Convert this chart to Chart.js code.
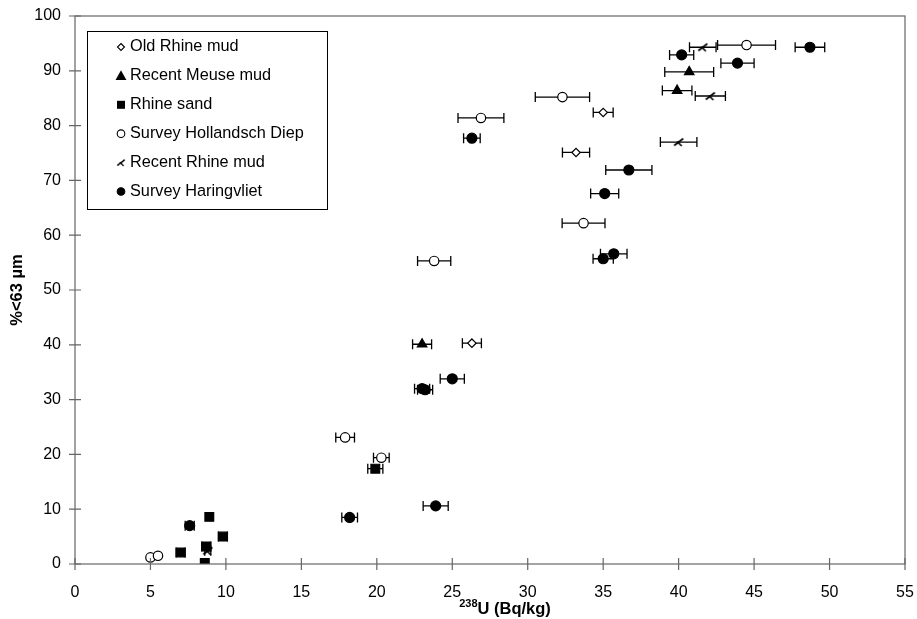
<!DOCTYPE html>
<html>
<head>
<meta charset="utf-8">
<script src="https://cdn.jsdelivr.net/npm/chart.js@4.4.0/dist/chart.umd.min.js"></script>
<style>
  html, body { margin: 0; padding: 0; background: #fff; }
</style>
</head>
<body>
<canvas id="chart" width="917" height="619"></canvas>
<script>
// values: x = 238U (Bq/kg), y = %<63 um, err = half width of the x error bar
const oldRhineX = [35.0, 33.2, 26.3];
const oldRhineY = [82.4, 75.1, 40.3];
const oldRhineErr = [0.66, 0.9, 0.63];

const meuseX = [40.7, 39.9, 23.0];
const meuseY = [89.8, 86.4, 40.1];
const meuseErr = [1.62, 0.98, 0.63];

const sandX = [19.9, 8.9, 8.6, 7.0, 9.8, 8.7];
const sandY = [17.4, 8.6, 0.2, 2.1, 5.0, 3.2];
const sandErr = [0.5, 0, 0, 0.3, 0.3, 0.3];

const hollandschX = [44.5, 32.3, 26.9, 33.7, 23.8, 17.9, 20.3, 5.0, 5.5];
const hollandschY = [94.7, 85.2, 81.4, 62.2, 55.3, 23.1, 19.4, 1.2, 1.5];
const hollandschErr = [1.92, 1.8, 1.52, 1.42, 1.1, 0.62, 0.52, 0, 0];

const recentRhineX = [41.6, 42.1, 40.0, 8.8];
const recentRhineY = [94.3, 85.4, 77.0, 2.4];
const recentRhineErr = [0.88, 1.0, 1.21, 0.2];

const haringvlietX = [48.7, 40.2, 43.9, 26.3, 36.7, 35.1, 35.7, 35.0, 25.0, 23.0, 23.2, 23.9, 18.2, 7.6];
const haringvlietY = [94.3, 92.9, 91.4, 77.7, 71.9, 67.6, 56.6, 55.7, 33.8, 32.0, 31.8, 10.6, 8.5, 7.0];
const haringvlietErr = [0.98, 0.8, 1.1, 0.55, 1.53, 0.93, 0.88, 0.67, 0.8, 0.5, 0.5, 0.83, 0.52, 0.3];

const seriesNames = ['Old Rhine mud', 'Recent Meuse mud', 'Rhine sand', 'Survey Hollandsch Diep', 'Recent Rhine mud', 'Survey Haringvliet'];

const xTicks = { min: 0, max: 55, step: 5 };
const yTicks = { min: 0, max: 100, step: 10 };

const FONT = "'Liberation Sans', Arial, sans-serif";

function points(xs, ys, errs) {
    return xs.map((x, i) => ({ x: x, y: ys[i], err: errs[i] }));
}

// the half-cross marker used for "Recent Rhine mud"
function makeHalfCross() {
    const c = document.createElement('canvas');
    c.width = 12;
    c.height = 12;
    const g = c.getContext('2d');
    g.strokeStyle = '#000';
    g.lineWidth = 1.7;
    g.beginPath();
    g.moveTo(1.5, 9.5);
    g.lineTo(10.5, 2.5);
    g.moveTo(4.5, 5.5);
    g.lineTo(9, 10);
    g.stroke();
    return c;
}
const halfCross = makeHalfCross();

const styles = [
    { pointStyle: 'rectRot', radius: 4.2, bg: '#fff' },
    { pointStyle: 'triangle', radius: 5.5, bg: '#000' },
    { pointStyle: 'rect', radius: 6.2, bg: '#000' },
    { pointStyle: 'circle', radius: 4.7, bg: '#fff' },
    { pointStyle: halfCross, radius: 6, bg: '#000' },
    { pointStyle: 'circle', radius: 5, bg: '#000' }
];

const seriesData = [
    points(oldRhineX, oldRhineY, oldRhineErr),
    points(meuseX, meuseY, meuseErr),
    points(sandX, sandY, sandErr),
    points(hollandschX, hollandschY, hollandschErr),
    points(recentRhineX, recentRhineY, recentRhineErr),
    points(haringvlietX, haringvlietY, haringvlietErr)
];

const datasets = seriesNames.map((name, i) => ({
    label: name,
    data: seriesData[i],
    pointStyle: styles[i].pointStyle,
    pointRadius: styles[i].radius,
    pointHoverRadius: styles[i].radius,
    backgroundColor: styles[i].bg,
    borderColor: '#000',
    borderWidth: 1.2,
    showLine: false
}));

const errorBars = {
    id: 'errorBars',
    beforeDatasetsDraw(chart) {
        const ctx = chart.ctx;
        const xs = chart.scales.x;
        const ys = chart.scales.y;
        ctx.save();
        ctx.strokeStyle = '#000';
        ctx.lineWidth = 1.3;
        chart.data.datasets.forEach(ds => {
            ds.data.forEach(p => {
                if (!p.err) return;
                const y = ys.getPixelForValue(p.y);
                const x1 = xs.getPixelForValue(p.x - p.err);
                const x2 = xs.getPixelForValue(p.x + p.err);
                ctx.beginPath();
                ctx.moveTo(x1, y);
                ctx.lineTo(x2, y);
                ctx.moveTo(x1, y - 5);
                ctx.lineTo(x1, y + 5);
                ctx.moveTo(x2, y - 5);
                ctx.lineTo(x2, y + 5);
                ctx.stroke();
            });
        });
        ctx.restore();
    }
};

// frame, crossing tick marks, axis titles and the boxed legend
const decorations = {
    id: 'decorations',
    afterDraw(chart) {
        const ctx = chart.ctx;
        const a = chart.chartArea;
        const xs = chart.scales.x;
        const ys = chart.scales.y;
        ctx.save();

        ctx.strokeStyle = '#666';
        ctx.lineWidth = 1.2;
        ctx.strokeRect(a.left, a.top, a.right - a.left, a.bottom - a.top);

        ctx.beginPath();
        xs.ticks.forEach(t => {
            const x = xs.getPixelForValue(t.value);
            ctx.moveTo(x, a.bottom - 6);
            ctx.lineTo(x, a.bottom + 6);
        });
        ys.ticks.forEach(t => {
            const y = ys.getPixelForValue(t.value);
            ctx.moveTo(a.left - 6, y);
            ctx.lineTo(a.left + 6, y);
        });
        ctx.stroke();

        // x title with superscript 238
        ctx.fillStyle = '#000';
        ctx.textBaseline = 'alphabetic';
        const sup = '238';
        const main = 'U (Bq/kg)';
        ctx.font = 'bold 11px ' + FONT;
        const supW = ctx.measureText(sup).width;
        ctx.font = 'bold 16.5px ' + FONT;
        const mainW = ctx.measureText(main).width;
        let tx = 505 - (supW + mainW) / 2;
        ctx.font = 'bold 11px ' + FONT;
        ctx.fillText(sup, tx, 607);
        ctx.font = 'bold 16.5px ' + FONT;
        ctx.fillText(main, tx + supW, 614);

        // y title
        ctx.save();
        ctx.translate(22, (a.top + a.bottom) / 2);
        ctx.rotate(-Math.PI / 2);
        ctx.textAlign = 'center';
        ctx.fillText('%<63 µm', 0, 0);
        ctx.restore();

        // legend
        ctx.fillStyle = '#fff';
        ctx.fillRect(87, 31, 240, 178);
        ctx.strokeStyle = '#000';
        ctx.lineWidth = 1;
        ctx.strokeRect(87.5, 31.5, 240, 178);
        ctx.font = '16.3px ' + FONT;
        ctx.textBaseline = 'middle';
        ctx.textAlign = 'left';
        chart.data.datasets.forEach((ds, i) => {
            const ly = 47 + i * 28.9;
            const lx = 121;
            drawMarker(ctx, ds, lx, ly);
            ctx.fillStyle = '#000';
            ctx.fillText(ds.label, 130, ly);
        });
        ctx.restore();
    }
};

function drawMarker(ctx, ds, x, y) {
    const st = ds.pointStyle;
    ctx.save();
    ctx.fillStyle = ds.backgroundColor;
    ctx.strokeStyle = '#000';
    ctx.lineWidth = 1.1;
    if (st instanceof HTMLCanvasElement) {
        ctx.drawImage(st, x - 5, y - 5, 10, 10);
    } else if (st === 'rectRot') {
        ctx.beginPath();
        ctx.moveTo(x, y - 3.5); ctx.lineTo(x + 3.5, y); ctx.lineTo(x, y + 3.5); ctx.lineTo(x - 3.5, y); ctx.closePath();
        ctx.fill(); ctx.stroke();
    } else if (st === 'triangle') {
        ctx.beginPath();
        ctx.moveTo(x, y - 4.5); ctx.lineTo(x + 4.5, y + 3.5); ctx.lineTo(x - 4.5, y + 3.5); ctx.closePath();
        ctx.fill(); ctx.stroke();
    } else if (st === 'rect') {
        ctx.fillRect(x - 4, y - 4, 8, 8);
    } else {
        ctx.beginPath();
        ctx.arc(x, y, 3.8, 0, Math.PI * 2);
        ctx.fill(); ctx.stroke();
    }
    ctx.restore();
}

new Chart(document.getElementById('chart').getContext('2d'), {
    type: 'scatter',
    data: { datasets: datasets },
    options: {
        responsive: false,
        devicePixelRatio: 1,
        animation: false,
        layout: { padding: { left: 0, right: 12, top: 16, bottom: 0 } },
        plugins: {
            legend: { display: false },
            tooltip: { enabled: false }
        },
        scales: {
            x: {
                type: 'linear',
                min: xTicks.min,
                max: xTicks.max,
                afterFit: axis => {
                    axis.height = 55;
                    axis.paddingLeft = 0;
                    axis.paddingRight = 0;
                },
                grid: { display: false },
                border: { display: false },
                ticks: {
                    stepSize: xTicks.step,
                    padding: 11,
                    color: '#000',
                    font: { family: FONT, size: 16 }
                }
            },
            y: {
                type: 'linear',
                min: yTicks.min,
                max: yTicks.max,
                afterFit: axis => {
                    axis.width = 75;
                    axis.paddingTop = 0;
                    axis.paddingBottom = 0;
                },
                grid: { display: false },
                border: { display: false },
                ticks: {
                    stepSize: yTicks.step,
                    padding: 6,
                    color: '#000',
                    font: { family: FONT, size: 16 }
                }
            }
        }
    },
    plugins: [errorBars, decorations]
});
</script>
</body>
</html>
